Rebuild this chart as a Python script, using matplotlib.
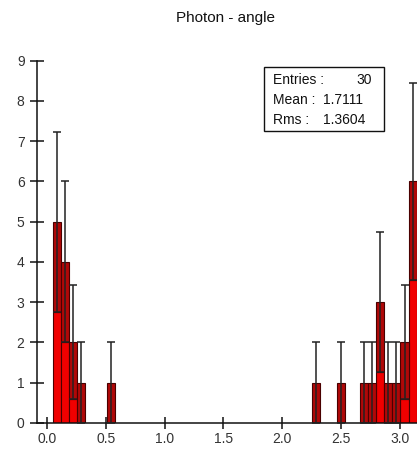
import numpy as np
import matplotlib
matplotlib.use("Agg")
import matplotlib.pyplot as plt
from matplotlib.patches import Rectangle

plt.rcParams['font.family'] = ['Liberation Sans', 'DejaVu Sans']

# photon angle histogram (rad), non-empty bins only
bin_width = 0.0688
centers = [0.082, 0.150, 0.218, 0.286, 0.546, 2.284, 2.496,
           2.694, 2.763, 2.832, 2.901, 2.970, 3.039, 3.108]
counts = [5, 4, 2, 1, 1, 1, 1, 1, 1, 3, 1, 1, 2, 6]
x_ticks = [0.0, 0.5, 1.0, 1.5, 2.0, 2.5, 3.0]
x_labels = ['0.0', '0.5', '1.0', '1.5', '2.0', '2.5', '3.0']
y_ticks = [0, 1, 2, 3, 4, 5, 6, 7, 8, 9]
mean_txt = '1.7111'
rms_txt = '1.3604'

centers = np.array(centers)
counts = np.array(counts, dtype=float)
errs = np.sqrt(counts)

fig = plt.figure(figsize=(4.17, 4.51), dpi=100)
ax = fig.add_axes([37 / 417, 28 / 451, 380 / 417, 362.5 / 451])

# lower part of each bar in bright red, error region below the value in dark red
ax.bar(centers, counts - errs, width=bin_width, color='#f00000',
       edgecolor='#4a0000', linewidth=0.8, zorder=2)
ax.bar(centers, errs, bottom=counts - errs, width=bin_width, color='#b00808',
       edgecolor='#4a0000', linewidth=0.8, zorder=2)
ax.errorbar(centers, counts, yerr=errs, fmt='none', ecolor='#222222',
            elinewidth=1.1, capsize=2.8, capthick=1.1, zorder=3)

ax.set_xlim(-0.085, 3.145)
ax.set_ylim(0, 9)
ax.set_xticks(x_ticks)
ax.set_xticklabels(x_labels)
ax.set_yticks(y_ticks)
for s in ['top', 'right']:
    ax.spines[s].set_visible(False)
for s in ['left', 'bottom']:
    ax.spines[s].set_linewidth(1.1)
    ax.spines[s].set_color('#111111')
ax.tick_params(axis='y', direction='inout', length=10, width=1.1,
               pad=4, labelsize=10, labelcolor='#333333', color='#111111')
ax.tick_params(axis='x', direction='inout', length=8.5, width=1.1,
               pad=2, labelsize=10, labelcolor='#333333', color='#111111')
for t in ax.get_xticklabels() + ax.get_yticklabels():
    t.set_clip_on(False)

fig.text(225 / 417, 1 - 18 / 451, 'Photon - angle', ha='center', va='center',
         fontsize=11, color='#111111')

# statistics box
box = Rectangle((264 / 417, 1 - 130.7 / 451), 120 / 417, 64 / 451,
                transform=fig.transFigure, facecolor='white',
                edgecolor='#111111', linewidth=1.0, zorder=5)
fig.patches.append(box)
stat_kw = dict(va='center', fontsize=10, color='#111111', zorder=6)
fig.text(273 / 417, 1 - 80 / 451, 'Entries :', ha='left', **stat_kw)
fig.text(372 / 417, 1 - 80 / 451, '%d' % int(counts.sum()), ha='right', **stat_kw)
fig.text(273 / 417, 1 - 100 / 451, 'Mean :', ha='left', **stat_kw)
fig.text(323 / 417, 1 - 100 / 451, mean_txt, ha='left', **stat_kw)
fig.text(273 / 417, 1 - 120 / 451, 'Rms :', ha='left', **stat_kw)
fig.text(323 / 417, 1 - 120 / 451, rms_txt, ha='left', **stat_kw)

fig.savefig('out.png', dpi=100)
